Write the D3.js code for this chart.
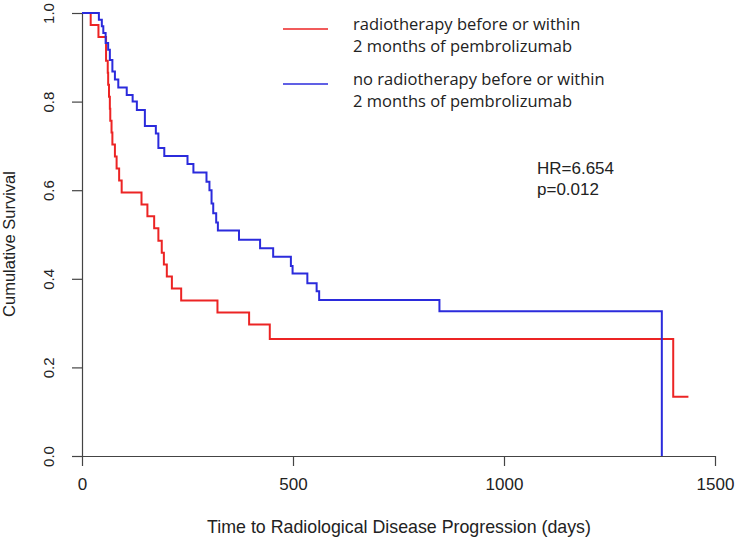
<!DOCTYPE html>
<html>
<head>
<meta charset="utf-8">
<script src="https://cdn.jsdelivr.net/npm/d3@7"></script>
<style>
  html, body { margin: 0; padding: 0; background: #fff; }
  svg { display: block; }
</style>
</head>
<body>
<div id="chart"></div>
<script>
// ---- Data ----
const seriesNames = [
  ["radiotherapy before or within", "2 months of pembrolizumab"],
  ["no radiotherapy before or within", "2 months of pembrolizumab"]
];
const seriesColors = ["#ec2424", "#2b2bdc"];

// Radiotherapy group: step times (days) and survival after each step
const redTimes = [0, 20.6, 39, 57, 61, 62, 64, 66, 67, 70, 72, 78, 82, 88, 94,
  141, 155, 171, 181, 189, 194, 201, 213, 235, 321, 396, 445, 1401, 1437];
const redSurv = [1, 0.973, 0.946, 0.892, 0.865, 0.838, 0.811, 0.784, 0.757, 0.730, 0.703, 0.676, 0.649, 0.622, 0.595,
  0.568, 0.541, 0.514, 0.486, 0.459, 0.432, 0.405, 0.378, 0.351, 0.324, 0.297, 0.264, 0.134, 0.134];

// No-radiotherapy group
const blueTimes = [0, 40, 47, 50.5, 56, 62, 66, 72, 78, 86, 106, 120, 130, 149, 175, 181, 195,
  250, 264, 295, 302, 307, 311, 318, 322, 372, 422, 453, 495, 499, 534, 556, 562, 847, 1374];
const blueSurv = [1, 0.985, 0.970, 0.955, 0.932, 0.917, 0.894, 0.868, 0.850, 0.832, 0.815, 0.800, 0.781, 0.745, 0.728, 0.695, 0.677,
  0.659, 0.640, 0.619, 0.600, 0.570, 0.548, 0.527, 0.509, 0.488, 0.469, 0.450, 0.429, 0.412, 0.390, 0.372, 0.352, 0.327, 0];

const xTicks = [0, 500, 1000, 1500];
const yTicks = [0, 0.2, 0.4, 0.6, 0.8, 1.0];
const statsText = ["HR=6.654", "p=0.012"];
const xTitle = "Time to Radiological Disease Progression (days)";
const yTitle = "Cumulative Survival";

// ---- Layout ----
const W = 735, H = 541;
const svg = d3.select("#chart").append("svg").attr("width", W).attr("height", H)
  .style("background", "#fff");

const x = d3.scaleLinear().domain([0, 1500]).range([82, 715]);
const y = d3.scaleLinear().domain([0, 1]).range([456, 13]);

const axisColor = "#444";
const fontAxis = "'Liberation Sans', Arial, Helvetica, sans-serif";

// X axis
const gx = svg.append("g").attr("transform", `translate(0,${y(0)})`)
  .call(d3.axisBottom(x).tickValues(xTicks).tickFormat(d3.format("d")).tickSize(10).tickSizeOuter(0));
gx.select(".domain").attr("stroke", axisColor).attr("stroke-width", 1.2);
gx.selectAll(".tick line").attr("stroke", axisColor).attr("stroke-width", 1.2);
gx.selectAll(".tick text").attr("y", 22).attr("dy", "0.71em")
  .attr("fill", "#222").style("font-family", fontAxis).style("font-size", "17px");

// Y axis
const gy = svg.append("g").attr("transform", `translate(${x(0)},0)`)
  .call(d3.axisLeft(y).tickValues(yTicks).tickFormat(d3.format(".1f")).tickSize(10).tickSizeOuter(0));
gy.select(".domain").attr("stroke", axisColor).attr("stroke-width", 1.2);
gy.selectAll(".tick line").attr("stroke", axisColor).attr("stroke-width", 1.2);
gy.selectAll(".tick text").attr("x", null).attr("dy", null)
  .attr("text-anchor", "middle")
  .attr("transform", "translate(-28,0) rotate(-90)")
  .attr("fill", "#222").style("font-family", fontAxis).style("font-size", "15px");

// Titles
svg.append("text").attr("x", 399).attr("y", 533).attr("text-anchor", "middle")
  .attr("fill", "#222").style("font-family", fontAxis).style("font-size", "17.8px").text(xTitle);
svg.append("text").attr("transform", `translate(15,244) rotate(-90)`)
  .attr("text-anchor", "middle")
  .attr("fill", "#222").style("font-family", fontAxis).style("font-size", "16.5px").text(yTitle);

// Curves
const line = d3.line().x(d => x(d[0])).y(d => y(d[1])).curve(d3.curveStepAfter);
const series = [
  d3.zip(redTimes, redSurv),
  d3.zip(blueTimes, blueSurv)
];
svg.selectAll("path.km").data(series).join("path")
  .attr("class", "km")
  .attr("d", line)
  .attr("fill", "none")
  .attr("stroke", (d, i) => seriesColors[i])
  .attr("stroke-width", 2);

// Legend
const legendFont = "'Open Sans', 'Noto Sans', sans-serif";
const legTop = [30, 85];
seriesNames.forEach((lines, i) => {
  svg.append("line").attr("x1", 283).attr("x2", 328)
    .attr("y1", legTop[i] - 1).attr("y2", legTop[i] - 1)
    .attr("stroke", seriesColors[i]).attr("stroke-width", 1.3);
  lines.forEach((t, j) => {
    svg.append("text").attr("x", 353).attr("y", legTop[i] + j * 22)
      .attr("fill", "#222").style("font-family", legendFont).style("font-size", "16.5px").text(t);
  });
});

// Stats
statsText.forEach((t, j) => {
  svg.append("text").attr("x", 537).attr("y", 174 + j * 21)
    .attr("fill", "#222").style("font-family", fontAxis).style("font-size", "17px").text(t);
});
</script>
</body>
</html>
